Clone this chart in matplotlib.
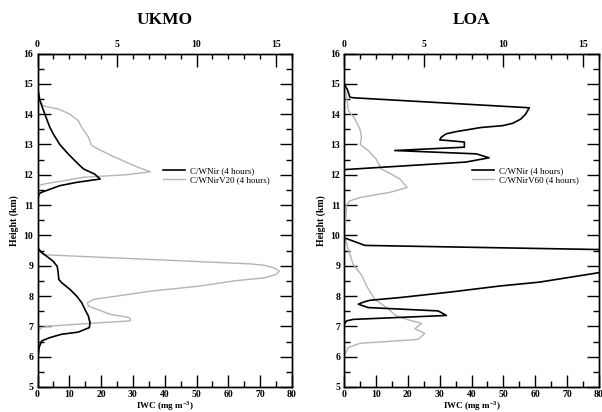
import matplotlib
matplotlib.use("Agg")
import matplotlib.pyplot as plt
from matplotlib.ticker import MultipleLocator

# ---------------- data ----------------
# Upper cloud (plotted against top axis, 0-16) ; lower cloud (bottom axis, 0-80)
ukmo_ir_up_x = [0, 0.15, 0.46, 0.78, 1.0, 1.4, 1.94, 2.57, 2.9, 3.6, 3.94, 2.46, 1.4, 0.25, 0.1, 0, 0]
ukmo_ir_up_y = [14.9, 14.45, 14.0, 13.56, 13.34, 13.0, 12.68, 12.35, 12.19, 12.02, 11.86, 11.75, 11.64, 11.42, 11.37, 11.15, 11.0]
ukmo_v20_up_x = [0, 0.1, 0.36, 1.3, 2.04, 2.57, 2.78, 3.0, 3.2, 3.4, 3.73, 4.78, 6.25, 7.1, 5.6, 2.9, 1.6, 0.46, 0]
ukmo_v20_up_y = [14.9, 14.5, 14.27, 14.17, 14.0, 13.78, 13.56, 13.4, 13.24, 12.97, 12.87, 12.6, 12.26, 12.1, 12.0, 11.92, 11.8, 11.7, 11.64]

ukmo_ir_lo_x = [0, 1.3, 2.8, 4.9, 6.2, 6.5, 6.7, 7.6, 10.2, 12.3, 13.9, 14.9, 16.0, 16.5, 16.3, 12.8, 7.6, 3.9, 1.3, 0.5, 0.2, 0]
ukmo_ir_lo_y = [9.6, 9.43, 9.32, 9.15, 8.98, 8.77, 8.55, 8.44, 8.22, 8.0, 7.78, 7.56, 7.34, 7.12, 6.96, 6.81, 6.74, 6.63, 6.52, 6.3, 6.02, 5.69]
ukmo_v20_lo_x = [0, 1.0, 2.5, 67, 71, 74.4, 76, 75, 71.3, 61.8, 51, 35.5, 25, 17.6, 15.7, 16, 22.8, 28.9, 29.2, 19.7, 3.9, 1.3, 0.2, 0]
ukmo_v20_lo_y = [9.6, 9.45, 9.36, 9.06, 9.02, 8.93, 8.82, 8.71, 8.6, 8.5, 8.33, 8.16, 8.0, 7.89, 7.78, 7.67, 7.4, 7.29, 7.18, 7.12, 7.01, 6.96, 6.85, 6.75]

loa_ir_up_x = [0, 0.2, 0.35, 0.56, 11.63, 11.4, 11.1, 10.6, 9.96, 8.6, 7.0, 6.4, 6.1, 6.0, 6.5, 7.55, 7.55, 3.17, 8.3, 9.1, 7.65, 0]
loa_ir_up_y = [15.0, 14.8, 14.56, 14.54, 14.21, 14.0, 13.84, 13.7, 13.62, 13.56, 13.42, 13.35, 13.24, 13.15, 13.13, 13.08, 12.91, 12.8, 12.69, 12.56, 12.42, 12.17]
loa_v60_up_x = [0, 0.15, 0.25, 0.67, 0.98, 1.08, 1.0, 1.5, 2.0, 2.34, 2.96, 3.5, 3.95, 2.86, 0.98, 0.35, 0.15, 0.1, 0.03]
loa_v60_up_y = [15.0, 14.56, 14.12, 13.84, 13.51, 13.24, 13.0, 12.8, 12.52, 12.19, 12.02, 11.86, 11.58, 11.42, 11.25, 11.14, 11.0, 10.6, 10.05]

loa_ir_lo_x = [0, 6.5, 82, 84, 80, 69.8, 61.4, 48.8, 33.2, 17.5, 8.05, 6.0, 4.4, 7.5, 29.5, 32.1, 2.8, 0.7, 0]
loa_ir_lo_y = [9.92, 9.67, 9.53, 8.8, 8.77, 8.6, 8.46, 8.33, 8.13, 7.95, 7.86, 7.8, 7.73, 7.62, 7.51, 7.36, 7.23, 7.18, 7.07]
loa_v60_lo_x = [0, 1.25, 2.8, 5.4, 7.0, 9.6, 13.3, 16.4, 19.6, 24.3, 22.2, 25.3, 23.2, 4.9, 1.25, 0.2, 0]
loa_v60_lo_y = [10.0, 9.54, 9.04, 8.7, 8.33, 7.89, 7.62, 7.34, 7.23, 7.1, 6.92, 6.77, 6.57, 6.44, 6.3, 6.08, 5.97]

titles = ["UKMO", "LOA"]
labels_ir = "C/WNir (4 hours)"
labels_v = ["C/WNirV20 (4 hours)", "C/WNirV60 (4 hours)"]

# ---------------- style ----------------
SERIF = ["Liberation Serif", "DejaVu Serif"]
plt.rcParams["font.family"] = SERIF
plt.rcParams["mathtext.fontset"] = "custom"
plt.rcParams["mathtext.rm"] = "Liberation Serif"
plt.rcParams["mathtext.bf"] = "Liberation Serif:bold"
GRAY = "#b4b4b4"
BLACK = "#000000"

W, H = 602, 412
fig = plt.figure(figsize=(W / 100, H / 100), dpi=100)

panels = [
    dict(x0=37.5, title=titles[0], vlab=labels_v[0],
         up=(ukmo_ir_up_x, ukmo_ir_up_y, ukmo_v20_up_x, ukmo_v20_up_y),
         lo=(ukmo_ir_lo_x, ukmo_ir_lo_y, ukmo_v20_lo_x, ukmo_v20_lo_y),
         leg_x=163),
    dict(x0=344.3, title=titles[1], vlab=labels_v[1],
         up=(loa_ir_up_x, loa_ir_up_y, loa_v60_up_x, loa_v60_up_y),
         lo=(loa_ir_lo_x, loa_ir_lo_y, loa_v60_lo_x, loa_v60_lo_y),
         leg_x=472),
]

ax_w = 254.5
y_top, y_bot = 53.5, 387.0
tick_fs = 7
for p in panels:
    ax = fig.add_axes([p["x0"] / W, 1 - y_bot / H, ax_w / W, (y_bot - y_top) / H])
    ax2 = ax.twiny()
    ax.set_xlim(0, 80)
    ax.set_ylim(5, 16)
    ax2.set_xlim(0, 16)

    ir_lo_x, ir_lo_y, v_lo_x, v_lo_y = p["lo"]
    ir_up_x, ir_up_y, v_up_x, v_up_y = p["up"]
    ax.plot(v_lo_x, v_lo_y, color=GRAY, lw=1.0)
    ax.plot(ir_lo_x, ir_lo_y, color=BLACK, lw=1.2)
    ax2.plot(v_up_x, v_up_y, color=GRAY, lw=1.0)
    ax2.plot(ir_up_x, ir_up_y, color=BLACK, lw=1.2)

    for a in (ax, ax2):
        for s in a.spines.values():
            s.set_linewidth(1.0)

    ax.xaxis.set_major_locator(MultipleLocator(10))
    ax.xaxis.set_minor_locator(MultipleLocator(5))
    ax.yaxis.set_major_locator(MultipleLocator(1))
    ax.yaxis.set_minor_locator(MultipleLocator(0.5))
    ax.tick_params(axis="both", which="both", direction="in", top=False, right=True,
                   width=1.0)
    ax.tick_params(axis="both", which="major", length=9, pad=2.5, labelsize=tick_fs)
    ax.tick_params(axis="both", which="minor", length=4.5)
    ax.tick_params(axis="y", which="major", pad=3)

    ax2.xaxis.set_major_locator(MultipleLocator(5))
    ax2.xaxis.set_minor_locator(MultipleLocator(1))
    ax2.tick_params(axis="x", which="both", direction="in", width=1.0)
    ax2.tick_params(axis="x", which="major", length=9, pad=3, labelsize=tick_fs)
    ax2.tick_params(axis="x", which="minor", length=3.5)

    for lab in ax.get_xticklabels() + ax.get_yticklabels() + ax2.get_xticklabels():
        lab.set_fontweight("bold")

    cx = (p["x0"] + ax_w / 2) / W
    fig.text(cx, 1 - 406 / H, "IWC (mg m$^{\\mathbf{-3}}$)", ha="center", va="center",
             fontsize=6.5, fontweight="bold")
    ax.set_ylabel("Height (km)", fontsize=7, fontweight="bold", labelpad=3)

    fig.text(cx, 1 - 20 / H, p["title"], ha="center", va="center",
             fontsize=12.5, fontweight="bold")

    h1, = ax.plot([], [], color=BLACK, lw=1.2)
    h2, = ax.plot([], [], color=GRAY, lw=1.0)
    ax.legend([h1, h2], [labels_ir, p["vlab"]], loc="upper left",
              bbox_to_anchor=(p["leg_x"] / W, 1 - 167 / H),
              bbox_transform=fig.transFigure, frameon=False, borderpad=0,
              borderaxespad=0, fontsize=6.5, handlelength=2.4,
              handletextpad=0.6, labelspacing=0.1)

fig.savefig("out.png", dpi=100)
